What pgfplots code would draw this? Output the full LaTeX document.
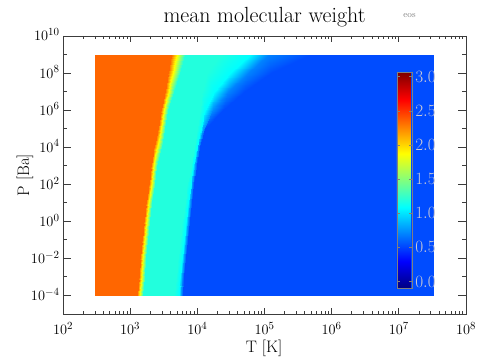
\documentclass[border=0pt]{standalone}
\usepackage{pgfplots}
\usepackage{pgfplotstable}
\pgfplotsset{compat=1.18}
\definecolor{cblab}{RGB}{200,200,214}
\definecolor{axgray}{RGB}{60,60,60}

\pgfplotstableread{
lt lp mu
2.477 -4 2.35
3.105 -4 2.35
3.195 -4 1.19
3.660 -4 1.19
3.720 -4 1.085
3.750 -4 0.78
3.780 -4 0.53
7.520 -4 0.53
2.477 -3 2.35
3.128 -3 2.35
3.218 -3 1.19
3.680 -3 1.19
3.740 -3 1.085
3.770 -3 0.78
3.800 -3 0.53
7.520 -3 0.53
2.477 -2 2.35
3.150 -2 2.35
3.240 -2 1.19
3.710 -2 1.19
3.770 -2 1.085
3.800 -2 0.78
3.830 -2 0.53
7.520 -2 0.53
2.477 -1 2.35
3.175 -1 2.35
3.265 -1 1.19
3.740 -1 1.19
3.800 -1 1.085
3.830 -1 0.78
3.860 -1 0.53
7.520 -1 0.53
2.477 0 2.35
3.205 0 2.35
3.295 0 1.19
3.775 0 1.19
3.830 0 1.085
3.860 0 0.78
3.890 0 0.53
7.520 0 0.53
2.477 1 2.35
3.240 1 2.35
3.330 1 1.19
3.810 1 1.19
3.860 1 1.085
3.890 1 0.78
3.920 1 0.53
7.520 1 0.53
2.477 2 2.35
3.285 2 2.35
3.375 2 1.19
3.850 2 1.19
3.900 2 1.085
3.925 2 0.78
3.950 2 0.53
7.520 2 0.53
2.477 3 2.35
3.315 3 2.35
3.405 3 1.19
3.900 3 1.19
3.940 3 1.085
3.965 3 0.78
3.990 3 0.53
7.520 3 0.53
2.477 4 2.35
3.358 4 2.35
3.468 4 1.19
3.950 4 1.19
3.990 4 1.085
4.015 4 0.78
4.040 4 0.53
7.520 4 0.53
2.477 5 2.35
3.408 5 2.35
3.518 5 1.19
4.000 5 1.19
4.050 5 1.085
4.080 5 0.78
4.120 5 0.53
7.520 5 0.53
2.477 6 2.35
3.458 6 2.35
3.568 6 1.19
4.040 6 1.19
4.120 6 1.085
4.240 6 0.72
4.380 6 0.53
7.520 6 0.53
2.477 7 2.35
3.513 7 2.35
3.653 7 1.19
4.070 7 1.19
4.250 7 1.085
4.450 7 0.70
4.700 7 0.53
7.520 7 0.53
2.477 8 2.35
3.565 8 2.35
3.735 8 1.19
4.150 8 1.19
4.480 8 1.085
4.750 8 0.70
5.100 8 0.53
7.520 8 0.53
2.477 9 2.35
3.604 9 2.35
3.814 9 1.19
4.340 9 1.19
4.780 9 1.085
5.050 9 0.70
5.680 9 0.53
7.520 9 0.53
}\mudata

\begin{document}
\begin{tikzpicture}
\path[use as bounding box] (0,0) rectangle (504bp,360bp);
\begin{axis}[
  at={(63bp,46bp)}, anchor=south west, scale only axis,
  width=403bp, height=278bp,
  xmode=log, ymode=log,
  xmin=1e2, xmax=1e8, ymin=1e-5, ymax=1e10,
  xtick={1e2,1e3,1e4,1e5,1e6,1e7,1e8},
  minor xtick={2e2,3e2,4e2,5e2,6e2,7e2,8e2,9e2,
               2e3,3e3,4e3,5e3,6e3,7e3,8e3,9e3,
               2e4,3e4,4e4,5e4,6e4,7e4,8e4,9e4,
               2e5,3e5,4e5,5e5,6e5,7e5,8e5,9e5,
               2e6,3e6,4e6,5e6,6e6,7e6,8e6,9e6,
               2e7,3e7,4e7,5e7,6e7,7e7,8e7,9e7},
  ytick={1e-4,1e-2,1,1e2,1e4,1e6,1e8,1e10},
  minor ytick={1e-5,1e-3,1e-1,1e1,1e3,1e5,1e7,1e9},
  tick align=inside,
  major tick length=5.6bp, minor tick length=2.8bp,
  ytick style={/pgfplots/major tick length=8bp, /pgfplots/minor tick length=4bp},
  axis line style={axgray, line width=0.9bp},
  tick style={axgray, line width=0.9bp},
  tick label style={font=\fontsize{15.5}{18}\selectfont},
  xticklabel style={anchor=base, yshift=-20.3bp},
  yticklabel style={anchor=base east, yshift=-5bp},
  colormap/jet,
  point meta min=-0.1, point meta max=3.06,
  colorbar,
  colorbar style={
    at={(parent axis.south west)}, anchor=south west,
    xshift=325.3bp, yshift=25.7bp,
    scale only axis, width=15bp, height=215.6bp,
    ytick={0,0.5,1,1.5,2,2.5,3},
    yticklabel pos=right,
    tick align=inside, major tick length=3bp,
    ytick style={draw=gray, line width=0.6bp},
    axis line style={gray, line width=0.6bp},
    yticklabel style={font=\fontsize{17}{20}\selectfont, text=cblab,
      anchor=west, yshift=0pt,
      /pgf/number format/.cd, fixed, fixed zerofill, precision=1},
  },
  title={mean molecular weight},
  title style={font=\fontsize{22}{26}\selectfont, at={(0.5,1)}, anchor=base, yshift=7.7bp},
]
\addplot[surf, shader=interp, mesh/cols=8, mesh/rows=14, point meta=explicit]
  table[x expr={10^(\thisrow{lt})}, y expr={10^(\thisrow{lp})}, meta=mu] {\mudata};
\end{axis}
\node[font=\fontsize{16.7}{20}\selectfont, anchor=base] at (264bp,7.3bp) {T [K]};
\node[font=\fontsize{16.7}{20}\selectfont, anchor=base, rotate=90] at (29bp,185bp) {P [Ba]};
\node[font=\fontsize{9}{10}\selectfont, text=gray, anchor=base] at (409.5bp,342.5bp) {eos};
\end{tikzpicture}
\end{document}
